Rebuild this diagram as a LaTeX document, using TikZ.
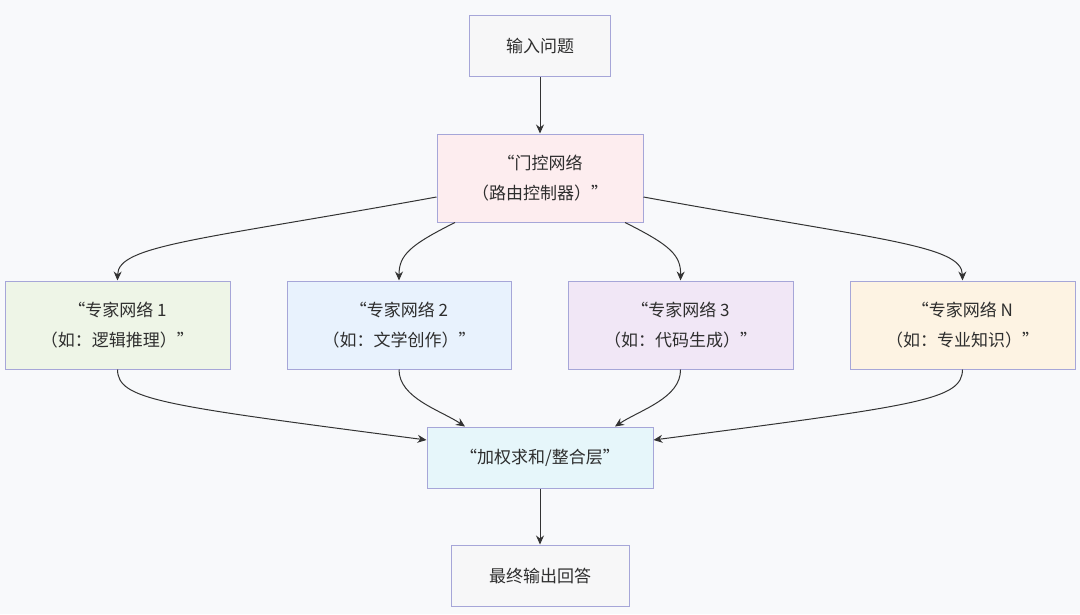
\documentclass[tikz,border=0pt]{standalone}
\usepackage{fontspec}
\setmainfont{Noto Sans CJK SC}
\usetikzlibrary{arrows.meta}
\definecolor{bg}{HTML}{F8F9FB}
\definecolor{bd}{HTML}{A6A6D8}
\definecolor{ln}{HTML}{333333}
\definecolor{txt}{HTML}{2E2E2E}
\definecolor{cin}{HTML}{F7F7F8}
\definecolor{cgate}{HTML}{FDEDEF}
\definecolor{ce1}{HTML}{EEF5E7}
\definecolor{ce2}{HTML}{E8F2FD}
\definecolor{ce3}{HTML}{F1E7F6}
\definecolor{ce4}{HTML}{FDF3E3}
\definecolor{csum}{HTML}{E6F6FA}
\tikzset{
  box/.style={draw=bd, line width=1pt, inner sep=0pt, align=center, text=txt,
    font=\fontsize{17}{30}\selectfont},
  arr/.style={draw=ln, line width=1pt, -{Stealth[length=9pt,width=8pt]}},
}
\begin{document}
\begin{tikzpicture}[x=1pt,y=-1pt]
\fill[bg] (0,0) rectangle (1080,614);
\useasboundingbox (0,0) rectangle (1080,614);
\node[box, fill=cin, minimum width=141pt, minimum height=61pt] (in) at (540,46) {输入问题};
\node[box, fill=cgate, minimum width=206pt, minimum height=88pt] (gate) at (540,178) {“门控网络\\（路由控制器）”};
\node[box, fill=ce1, minimum width=225pt, minimum height=88pt] (e1) at (117.5,325) {“专家网络 1\\（如：逻辑推理）”};
\node[box, fill=ce2, minimum width=224pt, minimum height=88pt] (e2) at (399,325) {“专家网络 2\\（如：文学创作）”};
\node[box, fill=ce3, minimum width=225pt, minimum height=88pt] (e3) at (680.5,325) {“专家网络 3\\（如：代码生成）”};
\node[box, fill=ce4, minimum width=225pt, minimum height=88pt] (e4) at (962.5,325) {“专家网络 N\\（如：专业知识）”};
\node[box, fill=csum, minimum width=226pt, minimum height=61pt] (sum) at (540,457.5) {“加权求和/整合层”};
\node[box, fill=cin, minimum width=178pt, minimum height=61pt] (out) at (540,575.5) {最终输出回答};

\draw[arr] (in) -- (gate);
\draw[arr] (gate.west |- 0,197) .. controls (200,240) and (118,245) .. (e1.north);
\draw[arr] (gate.south -| 455,0) .. controls (410,245) and (399,255) .. (e2.north);
\draw[arr] (gate.south -| 625,0) .. controls (670,245) and (681,255) .. (e3.north);
\draw[arr] (gate.east |- 0,197) .. controls (880,240) and (962,245) .. (e4.north);
\draw[arr] (e1.south) .. controls (118,400) and (160,405) .. (sum.west |- 0,440);
\draw[arr] (e2.south) .. controls (399,398) and (440,410) .. (sum.north -| 465,0);
\draw[arr] (e3.south) .. controls (681,398) and (640,410) .. (sum.north -| 615,0);
\draw[arr] (e4.south) .. controls (962,400) and (920,405) .. (sum.east |- 0,440);
\draw[arr] (sum) -- (out);
\end{tikzpicture}
\end{document}
